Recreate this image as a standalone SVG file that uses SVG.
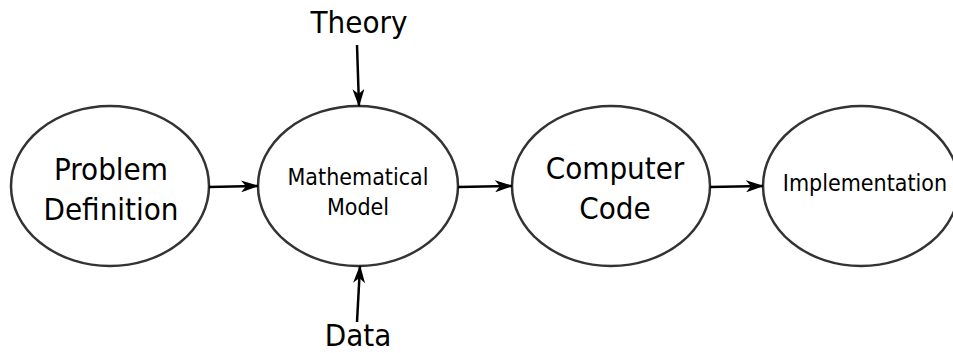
<svg xmlns="http://www.w3.org/2000/svg" width="953" height="353" viewBox="0 0 953 353">
  <style>
    .node { fill: #ffffff; stroke: #333333; stroke-width: 2.5; }
    .lbl { font-family: "DejaVu Sans Condensed", "DejaVu Sans", "Liberation Sans", sans-serif; font-stretch: condensed; fill: #000000; text-anchor: middle; }
    .big { font-size: 31px; }
    .small { font-size: 23px; }
    .edge { stroke: #000000; stroke-width: 2.5; fill: none; marker-end: url(#head); }
  </style>
  <defs>
    <marker id="head" viewBox="0 0 18 12" refX="17" refY="6" markerWidth="18" markerHeight="12" markerUnits="userSpaceOnUse" orient="auto">
      <path d="M0,0 L18,6 L0,12 L5,6 Z" fill="#000000"/>
    </marker>
  </defs>
  <rect width="953" height="353" fill="#ffffff"/>

  <g id="problem-definition">
    <ellipse class="node" cx="110" cy="186" rx="99" ry="80"/>
    <text class="lbl big" x="111" y="180">Problem</text>
    <text class="lbl big" x="111" y="220">Definition</text>
  </g>

  <g id="mathematical-model">
    <ellipse class="node" cx="358" cy="186" rx="100" ry="80"/>
    <text class="lbl small" x="358" y="185">Mathematical</text>
    <text class="lbl small" x="358" y="215">Model</text>
  </g>

  <g id="computer-code">
    <ellipse class="node" cx="611" cy="186" rx="99" ry="80"/>
    <text class="lbl big" x="615" y="179">Computer</text>
    <text class="lbl big" x="615" y="219">Code</text>
  </g>

  <g id="implementation">
    <ellipse class="node" cx="861" cy="186" rx="98" ry="80"/>
    <text class="lbl small" x="865" y="191">Implementation</text>
  </g>

  <g id="theory">
    <text class="lbl big" x="359" y="33">Theory</text>
  </g>

  <g id="data">
    <text class="lbl big" x="358" y="346">Data</text>
  </g>

  <g id="connectors">
    <line class="edge" x1="209" y1="187" x2="258" y2="186"/>
    <line class="edge" x1="458" y1="187" x2="512" y2="186"/>
    <line class="edge" x1="710" y1="187" x2="763" y2="186"/>
    <line class="edge" x1="357" y1="45" x2="359" y2="106"/>
    <line class="edge" x1="357" y1="322" x2="360" y2="266"/>
  </g>
</svg>
